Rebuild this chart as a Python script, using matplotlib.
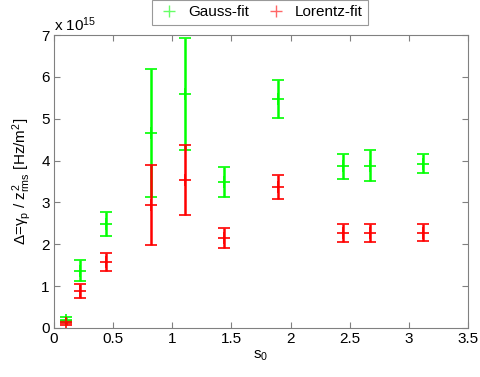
import matplotlib
matplotlib.use('Agg')
from matplotlib import pyplot as plt
from matplotlib.lines import Line2D

plt.rcParams['font.family'] = ['Liberation Sans', 'DejaVu Sans']
plt.rcParams['mathtext.fontset'] = 'custom'
plt.rcParams['mathtext.rm'] = 'Liberation Sans'
plt.rcParams['mathtext.it'] = 'Liberation Sans'

# data (y in units of 1e15 Hz/m^2)
s0 = [0.10, 0.22, 0.44, 0.82, 1.11, 1.44, 1.89, 2.44, 2.67, 3.12]
gauss = [0.20, 1.37, 2.49, 4.66, 5.59, 3.49, 5.47, 3.86, 3.88, 3.93]
gauss_err = [0.06, 0.25, 0.29, 1.53, 1.33, 0.36, 0.45, 0.30, 0.37, 0.23]
lorentz = [0.12, 0.89, 1.58, 2.94, 3.54, 2.15, 3.37, 2.27, 2.27, 2.28]
lorentz_err = [0.05, 0.17, 0.21, 0.95, 0.84, 0.25, 0.28, 0.22, 0.22, 0.21]

fig = plt.figure(figsize=(4.81, 3.77), dpi=100)
ax = fig.add_axes([0.112, 0.13, 0.861, 0.777])

ax.errorbar(s0, gauss, yerr=gauss_err, fmt='+', color=(0, 1, 0), ms=8,
            mew=1.2, elinewidth=1.8, capsize=4, capthick=1.5)
ax.errorbar(s0, lorentz, yerr=lorentz_err, fmt='+', color=(1, 0, 0), ms=8,
            mew=1.2, elinewidth=1.8, capsize=4, capthick=1.5)

ax.set_xlim(0, 3.5)
ax.set_ylim(0, 7)
ax.set_xticks([0, 0.5, 1, 1.5, 2, 2.5, 3, 3.5])
ax.set_xticklabels(['0', '0.5', '1', '1.5', '2', '2.5', '3', '3.5'])
ax.set_yticks(range(8))
ax.tick_params(direction='in', length=4, color='#808080', labelsize=11,
               top=True, right=True, pad=3)
for sp in ax.spines.values():
    sp.set_color('#808080')

ax.text(0.0, 1.005, r'x 10$^{15}$', transform=ax.transAxes, fontsize=11,
        ha='left', va='bottom')
ax.set_xlabel(r's$_0$', fontsize=11, labelpad=2)
ax.set_ylabel(r'$\Delta$=$\gamma_p$ / $z^2_{rms}$ [Hz/m$^2$]', fontsize=11, labelpad=6)

handles = [Line2D([], [], ls='none', marker='+', ms=8, mew=1, color=(0.4, 1, 0.4)),
           Line2D([], [], ls='none', marker='+', ms=8, mew=1, color=(1, 0.4, 0.4))]
leg = ax.legend(handles, ['Gauss-fit', 'Lorentz-fit'], loc='lower center',
                bbox_to_anchor=(0.498, 1.035), ncol=2, fontsize=11,
                frameon=True, fancybox=False, handlelength=1.5,
                columnspacing=1.0, borderpad=0.35, handletextpad=0.5,
                borderaxespad=0)
leg.get_frame().set_edgecolor('#808080')
leg.get_frame().set_linewidth(0.8)

fig.savefig('out.png', dpi=100)
